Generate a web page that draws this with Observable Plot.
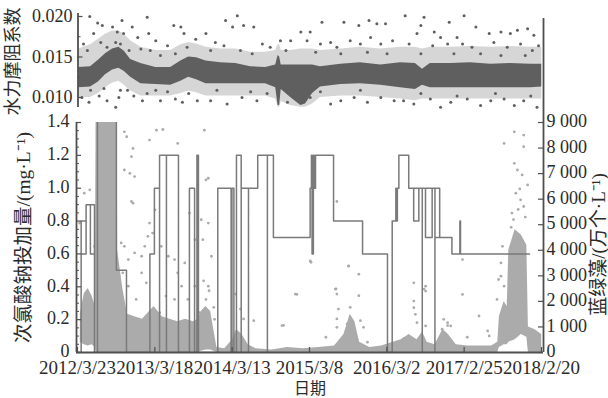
<!DOCTYPE html>
<html>
<head>
<meta charset="utf-8">
<script src="https://cdn.jsdelivr.net/npm/d3@7"></script>
<script src="https://cdn.jsdelivr.net/npm/@observablehq/plot@0.6"></script>
<style>
  html, body { margin: 0; padding: 0; background: #fff; }
  #chart { position: relative; width: 608px; height: 398px; overflow: hidden; }
  #chart > svg { position: absolute; left: 0; top: 0; }
</style>
</head>
<body>
<div id="chart"></div>
<script>
// ---------- axis ticks ----------
const dateTickLabels = ["2012/3/23", "2013/3/18", "2014/3/13", "2015/3/8", "2016/3/2", "2017/2/25", "2018/2/20"];
const frictionTicks = [0.010, 0.015, 0.020];
const frictionTickLabels = ["0.010", "0.015", "0.020"];
const doseTicks = [0, 0.2, 0.4, 0.6, 0.8, 1.0, 1.2, 1.4];
const doseTickLabels = ["0", "0.2", "0.4", "0.6", "0.8", "1.0", "1.2", "1.4"];
const algaeTicks = [0, 1000, 2000, 3000, 4000, 5000, 6000, 7000, 8000, 9000];
const algaeTickLabels = ["0", "1 000", "2 000", "3 000", "4 000", "5 000", "6 000", "7 000", "8 000", "9 000"];

// ---------- hydraulic friction coefficient (time as decimal year) ----------
const frictionCoreYear = [2012.24, 2012.39, 2012.49, 2012.58, 2012.67, 2012.75, 2012.82, 2012.90, 2013.03, 2013.22,
  2013.41, 2013.54, 2013.64, 2013.74, 2013.86, 2014.05, 2014.24, 2014.43, 2014.62, 2014.75,
  2014.78, 2014.80, 2014.82, 2014.94, 2015.07, 2015.13, 2015.22, 2015.32, 2015.58, 2015.83,
  2016.09, 2016.34, 2016.53, 2016.62, 2016.72, 2016.98, 2017.23, 2017.49, 2017.74, 2018.00, 2018.14];
// dense core of the daily values: lower / upper edge
const frictionCoreLow = [0.0112, 0.0113, 0.0119, 0.0128, 0.0134, 0.0136, 0.0132, 0.0125, 0.0117, 0.0116,
  0.0115, 0.0120, 0.0125, 0.0122, 0.0117, 0.0117, 0.0117, 0.0117, 0.0117, 0.0112,
  0.0090, 0.0090, 0.0110, 0.0100, 0.0090, 0.0092, 0.0105, 0.0113, 0.0116, 0.0117,
  0.0115, 0.0112, 0.0110, 0.0115, 0.0112, 0.0112, 0.0112, 0.0112, 0.0112, 0.0112, 0.0113];
const frictionCoreHigh = [0.0137, 0.0138, 0.0146, 0.0154, 0.0160, 0.0162, 0.0157, 0.0147, 0.0142, 0.0137,
  0.0137, 0.0145, 0.0150, 0.0149, 0.0145, 0.0143, 0.0142, 0.0138, 0.0137, 0.0140,
  0.0152, 0.0150, 0.0140, 0.0140, 0.0140, 0.0140, 0.0140, 0.0138, 0.0141, 0.0143,
  0.0140, 0.0143, 0.0142, 0.0135, 0.0142, 0.0142, 0.0143, 0.0141, 0.0142, 0.0141, 0.0141];
// looser spread around the core where scattered values are still frequent
const frictionSpreadLow = [0.0100, 0.0100, 0.0105, 0.0112, 0.0118, 0.0120, 0.0115, 0.0108, 0.0102, 0.0102,
  0.0102, 0.0105, 0.0108, 0.0106, 0.0102, 0.0102, 0.0102, 0.0102, 0.0102, 0.0098,
  0.0088, 0.0088, 0.0095, 0.0090, 0.0088, 0.0088, 0.0092, 0.0100, 0.0102, 0.0102,
  0.0100, 0.0098, 0.0096, 0.0098, 0.0098, 0.0098, 0.0098, 0.0098, 0.0098, 0.0098, 0.0098];
const frictionSpreadHigh = [0.0160, 0.0165, 0.0172, 0.0178, 0.0182, 0.0182, 0.0178, 0.0170, 0.0162, 0.0158,
  0.0158, 0.0165, 0.0168, 0.0166, 0.0162, 0.0160, 0.0160, 0.0156, 0.0156, 0.0158,
  0.0165, 0.0165, 0.0158, 0.0158, 0.0160, 0.0160, 0.0160, 0.0158, 0.0160, 0.0162,
  0.0160, 0.0162, 0.0162, 0.0160, 0.0162, 0.0162, 0.0163, 0.0162, 0.0163, 0.0162, 0.0162];
// scattered values away from the core: [year, coefficient]
const frictionScatter = [
  [2012.38,0.0200],[2012.48,0.0192],[2012.54,0.0189],[2012.67,0.0187],[2012.73,0.0181],[2012.79,0.0195],[2012.81,0.0179],
  [2012.92,0.0187],[2012.99,0.0174],[2013.11,0.0199],[2013.13,0.0179],[2013.22,0.0170],[2013.45,0.0189],[2013.54,0.0187],
  [2013.58,0.0179],[2013.62,0.0162],[2013.73,0.0172],[2012.30,0.0166],[2012.35,0.0158],[2012.52,0.0168],[2012.60,0.0162],
  [2012.71,0.0168],[2012.77,0.0166],[2012.88,0.0158],[2013.03,0.0160],[2013.15,0.0158],[2013.28,0.0152],[2013.37,0.0164],
  [2013.47,0.0154],[2012.43,0.0179],
  [2012.28,0.0100],[2012.37,0.0094],[2012.50,0.0102],[2012.60,0.0096],[2012.71,0.0088],[2012.75,0.0100],[2012.86,0.0109],
  [2012.94,0.0102],[2013.05,0.0096],[2013.11,0.0105],[2013.22,0.0109],[2013.28,0.0096],[2013.37,0.0107],[2013.47,0.0098],
  [2013.56,0.0094],[2013.64,0.0105],[2013.75,0.0096],[2012.39,0.0109],[2012.56,0.0111],[2012.77,0.0109],
  [2014.26,0.0201],[2014.11,0.0195],[2014.20,0.0187],[2014.34,0.0189],[2014.47,0.0187],[2015.07,0.0181],[2015.19,0.0181],
  [2015.34,0.0193],[2015.62,0.0193],[2015.81,0.0189],[2015.94,0.0195],[2016.04,0.0191],[2016.15,0.0191],[2013.86,0.0179],
  [2013.98,0.0168],[2014.09,0.0164],[2014.58,0.0166],[2014.68,0.0162],[2014.81,0.0170],[2014.94,0.0170],[2015.15,0.0170],
  [2015.32,0.0166],[2015.45,0.0168],[2015.53,0.0162],[2015.70,0.0170],[2015.83,0.0166],[2015.96,0.0174],[2016.09,0.0166],
  [2016.24,0.0170],[2013.92,0.0158],[2014.30,0.0158],[2014.45,0.0154],[2014.88,0.0158],[2015.26,0.0156],[2015.58,0.0154],
  [2015.92,0.0156],[2016.17,0.0154],
  [2013.92,0.0096],[2014.13,0.0092],[2014.32,0.0100],[2014.51,0.0096],[2014.64,0.0105],[2014.90,0.0094],[2015.19,0.0100],
  [2015.45,0.0092],[2015.58,0.0096],[2015.75,0.0100],[2015.92,0.0094],[2016.09,0.0100],[2016.26,0.0096],[2014.00,0.0109],
  [2014.43,0.0107],[2015.32,0.0107],[2015.83,0.0109],
  [2016.40,0.0201],[2016.64,0.0199],[2017.15,0.0201],[2016.60,0.0189],[2016.96,0.0193],[2017.30,0.0187],[2017.47,0.0179],
  [2017.62,0.0181],[2017.74,0.0179],[2017.83,0.0183],[2017.96,0.0185],[2018.04,0.0177],[2016.55,0.0179],[2016.77,0.0181],
  [2016.85,0.0174],[2017.06,0.0174],[2016.45,0.0166],[2016.75,0.0164],[2016.94,0.0166],[2017.13,0.0166],[2017.25,0.0162],
  [2017.36,0.0154],[2017.53,0.0168],[2017.70,0.0162],[2017.87,0.0166],[2018.02,0.0158],[2018.10,0.0164],[2016.60,0.0154],
  [2017.02,0.0154],[2017.62,0.0152],[2017.93,0.0152],
  [2016.38,0.0096],[2016.51,0.0092],[2016.72,0.0098],[2016.85,0.0088],[2016.98,0.0094],[2017.19,0.0098],[2017.36,0.0090],
  [2017.49,0.0096],[2017.66,0.0098],[2017.79,0.0090],[2017.91,0.0096],[2018.08,0.0088],[2016.60,0.0105],[2017.06,0.0102],
  [2017.55,0.0105],[2018.00,0.0102]
];

// ---------- cyanobacteria, 万个/L (time as decimal year) ----------
const algaeCoreYear = [2012.26, 2012.31, 2012.36, 2012.41, 2012.45, 2012.46, 2012.73, 2012.735, 2012.80, 2012.86,
  2012.95, 2013.05, 2013.14, 2013.20, 2013.30, 2013.40, 2013.50, 2013.60, 2013.70, 2013.76,
  2013.80, 2013.86, 2013.92, 2013.96, 2014.00, 2014.10, 2014.20, 2014.25, 2014.32, 2014.40,
  2014.50, 2014.70, 2014.90, 2015.10, 2015.30, 2015.50, 2015.62, 2015.70, 2015.76, 2015.82,
  2015.95, 2016.10, 2016.25, 2016.35, 2016.45, 2016.55, 2016.62, 2016.68, 2016.78, 2016.88,
  2016.95, 2017.05, 2017.20, 2017.35, 2017.50, 2017.58, 2017.60, 2017.66, 2017.70, 2017.72,
  2017.80, 2017.88, 2017.95, 2017.97, 2018.05, 2018.14];
const algaeCoreLow = [400, 300, 250, 300, 200, 0, 0, 0, 0, 0,
  0, 0, 0, 0, 0, 0, 0, 0, 0, 0,
  50, 100, 100, 50, 0, 0, 0, 0, 0, 0,
  0, 0, 0, 0, 0, 0, 0, 0, 0, 0,
  0, 0, 0, 0, 0, 0, 0, 0, 0, 0,
  0, 0, 0, 0, 0, 0, 200, 300, 300, 400,
  500, 700, 600, 0, 0, 0];
const algaeCoreHigh = [1500, 2300, 2500, 2200, 1800, 9000, 9000, 4000, 2500, 1500,
  1400, 1300, 1600, 1800, 1400, 1300, 1200, 1300, 1200, 1300,
  1600, 1800, 1600, 900, 200, 150, 500, 900, 700, 300,
  150, 100, 200, 150, 200, 250, 700, 1500, 1200, 400,
  200, 250, 400, 500, 700, 500, 800, 400, 300, 900,
  700, 300, 250, 250, 250, 400, 1400, 2000, 1800, 4000,
  4800, 4600, 4200, 1000, 900, 700];
const algaeScatter = [
  [2012.82,8637],[2012.85,8443],[2012.93,7987],[2012.91,7663],[2012.95,6884],[2012.82,7142],[2012.89,7013],[2012.91,5910],
  [2012.93,5844],[2013.14,8311],[2013.23,8700],[2013.31,8727],[2013.50,8182],[2013.84,8700],[2013.86,6752],[2013.89,6818],
  [2013.14,5065],[2013.21,5584],[2013.18,4675],[2013.12,4545],[2013.08,4156],[2013.04,3766],[2012.95,3896],[2012.87,3636],
  [2012.82,4156],[2012.78,4286],[2012.80,3117],[2012.87,2597],[2012.97,2078],[2013.04,3117],[2013.10,2727],[2013.29,4156],
  [2013.38,3766],[2013.46,3636],[2013.50,3117],[2013.59,3506],[2013.65,5454],[2013.72,4415],[2013.80,5195],[2013.82,4415],
  [2013.89,5065],[2013.89,2597],[2013.93,3766],[2013.27,1558],[2013.35,2208],[2013.46,2078],[2013.55,2597],[2013.63,2078],
  [2013.72,2597],[2013.78,1558],[2013.86,2078],[2013.97,1299],[2012.31,6234],[2012.38,6364],[2012.25,5065],[2012.44,4156],
  [2013.83,2805],[2013.90,2416],[2013.96,1766],[2014.34,1312],[2014.47,1247],[2014.24,2286],[2014.30,1701],[2015.00,2286],
  [2015.19,3584],[2014.83,1052],[2015.39,597],[2015.51,2480],[2015.53,2286],[2015.55,1701],[2015.53,1312],[2015.53,987],
  [2015.68,3390],[2015.81,3065],[2015.81,2221],[2015.70,1766],[2015.83,1247],[2015.87,987],[2015.92,403],[2015.66,1117],
  [2015.53,5909],[2015.20,3532],[2015.68,3377],[2015.52,2493],[2015.02,2273],[2014.85,1065],
  [2017.79,8637],[2017.91,8506],[2017.66,8182],[2017.79,7402],[2017.83,7142],[2017.91,8052],[2017.89,6948],[2017.96,6557],
  [2017.81,6234],[2017.87,5974],[2017.91,5714],[2017.76,5454],[2017.64,4156],[2017.62,3506],[2017.62,2987],[2017.66,2597],
  [2017.59,2857],[2017.13,3636],[2017.13,2273],[2016.51,2727],[2016.66,2597],[2016.66,2403],[2016.51,2013],[2016.51,1753],
  [2016.53,1493],[2016.55,1169],[2016.66,1039],[2016.89,1299],[2016.94,1169],[2016.98,1039],[2016.87,909],[2017.34,1428],
  [2017.45,844],[2017.47,649],[2017.57,2078],[2018.04,844],[2018.02,649],[2016.64,2480],[2016.38,532],[2016.94,1052],
  [2017.19,597],[2017.78,5200],[2017.84,5600],[2017.93,5300],[2017.86,6400],[2017.75,4900]
];

// ---------- sodium hypochlorite dosage, mg/L (vertices of the stepped record) ----------
const doseDate = ["2012-03-23", "2012-04-09", "2012-05-02", "2012-04-09", "2012-05-02", "2012-05-22", "2012-06-10",
  "2012-05-22", "2012-06-10", "2012-06-24", "2012-09-20", "2012-11-06", "2013-02-23", "2013-03-16",
  "2013-04-09", "2013-04-09", "2013-05-11", "2013-05-11", "2013-07-06", "2013-08-26", "2013-09-19",
  "2013-09-30", "2013-10-07", "2014-01-05", "2014-03-08", "2014-03-12", "2014-03-21", "2014-04-02",
  "2014-04-24", "2014-04-24", "2014-05-28", "2014-05-28", "2014-07-10", "2014-08-24", "2014-08-24",
  "2014-09-21", "2015-03-11", "2015-03-17", "2015-03-20", "2015-03-26", "2015-04-01", "2015-04-05",
  "2015-06-28", "2015-11-10", "2016-03-05", "2016-03-27", "2016-04-13", "2016-04-16", "2016-04-20",
  "2016-04-27", "2016-06-12", "2016-07-05", "2016-07-29", "2016-07-05", "2016-08-14", "2016-08-14",
  "2016-08-29", "2016-09-29", "2016-08-29", "2016-10-12", "2016-10-12", "2016-11-03", "2016-10-12",
  "2016-12-30", "2017-02-05", "2017-02-08", "2017-12-26"];
const doseValue = [0, 0.8, 0.6, 0.6, 0.9, 0.6, 0.9,
  0.9, 0, 1.5, 0.5, 0, 0.6, 1.0,
  0, 1.2, 0, 1.2, 0, 1.0, 0,
  1.2, 0, 1.0, 0, 1.0, 0, 1.2,
  0, 1.0, 0, 1.0, 1.2, 0, 1.2,
  0.7, 1.0, 1.2, 0.6, 1.2, 1.0, 1.2,
  0.8, 0.6, 0, 0.8, 1.0, 0.8, 1.0,
  1.2, 1.0, 0.8, 1.0, 1.0, 0, 1.0,
  0.7, 1.0, 1.0, 0, 1.0, 0.7, 0.7,
  0.6, 0.8, 0.6, 0.6];

// ---------- helpers ----------
function fromYear(y) {
  const Y = Math.floor(y);
  const a = Date.UTC(Y, 0, 1), b = Date.UTC(Y + 1, 0, 1);
  return new Date(a + (y - Y) * (b - a));
}
function fromSlashDate(s) {
  const [Y, M, D] = s.split("/").map(Number);
  return new Date(Date.UTC(Y, M - 1, D));
}

const W = 608, H = 398;
const ML = 76, MR = 65;
const frameW = W - ML - MR;
const xDomain = [new Date("2012-03-18T08:00:00Z"), new Date("2018-03-01T08:00:00Z")];
const FONT = "Liberation Serif, Noto Sans CJK SC, serif";
const INK = "#2b2b2b";
const AXIS = "#4f4f4f";
const DARK = "#5f5f5f";
const LIGHT = "#ababab";

const frictionCore = frictionCoreYear.map((y, i) => ({
  date: fromYear(y), lo: frictionCoreLow[i], hi: frictionCoreHigh[i],
  lo2: frictionSpreadLow[i], hi2: frictionSpreadHigh[i]
}));
const frictionDots = frictionScatter.map(([y, v]) => ({date: fromYear(y), value: v}));
const algaeCore = algaeCoreYear.map((y, i) => ({date: fromYear(y), lo: algaeCoreLow[i], hi: algaeCoreHigh[i]}));
const algaeDots = algaeScatter.map(([y, v]) => ({date: fromYear(y), value: v}));
const dose = doseDate.map((d, i) => ({date: new Date(d), value: doseValue[i]}));
const dateTicks = dateTickLabels.map(s => ({date: fromSlashDate(s), label: s}));

const common = {
  width: W, height: H, marginLeft: ML, marginRight: MR,
  style: {background: "transparent", overflow: "visible", fontFamily: FONT}
};

// ---------- upper panel: friction coefficient ----------
const upper = Plot.plot({
  ...common,
  marginTop: 13, marginBottom: H - 107,
  x: {type: "utc", domain: xDomain, axis: null},
  y: {domain: [0.008765, 0.02037], axis: null},
  marks: [
    Plot.areaY(frictionCore, {x: "date", y1: "lo2", y2: "hi2", fill: DARK, fillOpacity: 0.26}),
    Plot.areaY(frictionCore, {x: "date", y1: "lo", y2: "hi", fill: DARK}),
    Plot.dot(frictionDots, {x: "date", y: "value", r: 1.5, fill: DARK, stroke: "none"}),
    Plot.ruleX([xDomain[0]], {dx: 1.5, stroke: AXIS, strokeWidth: 1.8}),
    Plot.ruleX([xDomain[1]], {y1: 0.00691, y2: 0.01975, stroke: AXIS, strokeWidth: 1.8}),
    Plot.tickY(frictionTicks, {y: d => d, dx: 1.5, insetRight: frameW - 5, stroke: AXIS, strokeWidth: 1.2}),
    Plot.tickY([0.0125, 0.0175], {y: d => d, dx: 1.5, insetRight: frameW - 3, stroke: AXIS, strokeWidth: 1}),
    Plot.text(frictionTicks, {y: d => d, text: (d, i) => frictionTickLabels[i], frameAnchor: "left", textAnchor: "end",
      dx: -4, fontSize: 18, fill: INK, fontFamily: FONT}),
    Plot.text(["水力摩阻系数"], {text: d => d, frameAnchor: "left", textAnchor: "middle", lineAnchor: "middle",
      dx: 13 - ML, dy: 1, rotate: -90, fontSize: 18, fill: INK, fontFamily: FONT})
  ]
});

// ---------- lower panel, right scale: cyanobacteria ----------
const lowerAlgae = Plot.plot({
  ...common,
  marginTop: 122, marginBottom: H - 352,
  x: {type: "utc", domain: xDomain, axis: null},
  y: {domain: [0, 9000], axis: null},
  marks: [
    Plot.areaY(algaeCore, {x: "date", y1: "lo", y2: "hi", fill: LIGHT}),
    Plot.dot(algaeDots, {x: "date", y: "value", r: 1.4, fill: LIGHT, stroke: "none"}),
    Plot.tickY(algaeTicks, {y: d => d, insetLeft: frameW - 5, stroke: AXIS, strokeWidth: 1.2}),
    Plot.text(algaeTicks, {y: d => d, text: (d, i) => algaeTickLabels[i], frameAnchor: "right", textAnchor: "start",
      dx: 3, dy: -1, fontSize: 18, fill: INK, fontFamily: FONT}),
    Plot.text(["蓝绿藻/(万个·L⁻¹)"], {text: d => d, frameAnchor: "right", textAnchor: "middle", lineAnchor: "middle",
      dx: 55, dy: 7, rotate: -90, fontSize: 19, fill: INK, fontFamily: FONT})
  ]
});

// ---------- lower panel, left scale: hypochlorite dosage ----------
const doseMinor = d3.range(0.05, 1.4, 0.05).filter(v => Math.abs(v * 5 - Math.round(v * 5)) > 1e-6);
const lowerDose = Plot.plot({
  ...common,
  marginTop: 122, marginBottom: H - 352,
  x: {type: "utc", domain: xDomain, axis: null},
  y: {domain: [0, 1.4], axis: null},
  marks: [
    Plot.line(dose, {x: "date", y: "value", curve: "step-after", stroke: "#7a7a7a", strokeWidth: 1.5, clip: true}),
    Plot.ruleX([xDomain[0]], {stroke: AXIS, strokeWidth: 1.8}),
    Plot.ruleX([xDomain[1]], {stroke: AXIS, strokeWidth: 1.8}),
    Plot.ruleY([0], {stroke: AXIS, strokeWidth: 1.8}),
    Plot.tickY(doseTicks, {y: d => d, insetRight: frameW - 5, stroke: AXIS, strokeWidth: 1.2}),
    Plot.tickY(doseMinor, {y: d => d, insetRight: frameW - 3, stroke: AXIS, strokeWidth: 1}),
    Plot.tickX(dateTicks, {x: "date", insetTop: (352 - 122) - 5, stroke: AXIS, strokeWidth: 1.2}),
    Plot.text(doseTicks, {y: d => d, text: (d, i) => doseTickLabels[i], frameAnchor: "left", textAnchor: "end",
      dx: -7, dy: -1, fontSize: 18, fill: INK, fontFamily: FONT}),
    Plot.text(dateTicks, {x: "date", text: "label", frameAnchor: "bottom", lineAnchor: "top", dy: 8,
      fontSize: 19, fill: INK, fontFamily: FONT}),
    Plot.text(["日期"], {text: d => d, frameAnchor: "bottom", lineAnchor: "middle", dy: 36,
      fontSize: 16, fill: INK, fontFamily: FONT}),
    Plot.text(["次氯酸钠投加量/(mg·L⁻¹)"], {text: d => d, frameAnchor: "left", textAnchor: "middle", lineAnchor: "middle",
      dx: 23 - ML, rotate: -90, fontSize: 19.5, fill: INK, fontFamily: FONT})
  ]
});

const chart = document.getElementById("chart");
chart.append(upper, lowerAlgae, lowerDose);
</script>
</body>
</html>
